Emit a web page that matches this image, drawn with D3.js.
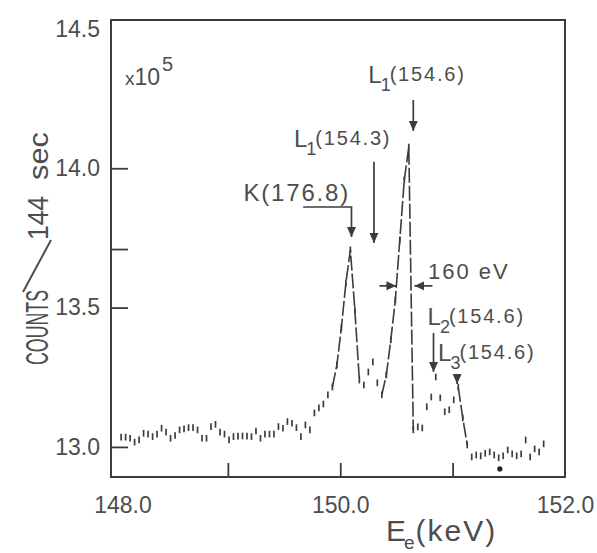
<!DOCTYPE html>
<html>
<head>
<meta charset="utf-8">
<script src="https://cdn.jsdelivr.net/npm/d3@7"></script>
<style>
    body { margin: 0; background: #fff; }
    svg text { font-family: "Liberation Sans", Arial, sans-serif; fill: #4d4d4d; }
</style>
</head>
<body>
<svg id="spectrum" width="597" height="553"></svg>
<script>
// electron energy (keV) of every channel
const energies = [
    148.05, 148.09, 148.13, 148.17, 148.21, 148.25, 148.29, 148.33, 148.37, 148.41,
    148.45, 148.49, 148.53, 148.57, 148.61, 148.65, 148.69, 148.73, 148.77, 148.81,
    148.85, 148.89, 148.93, 148.97, 149.01, 149.05, 149.09, 149.13, 149.17, 149.21,
    149.25, 149.29, 149.33, 149.37, 149.41, 149.45, 149.49, 149.53, 149.57, 149.61,
    149.65, 149.69, 149.73, 149.77, 149.81, 149.85, 149.89, 149.93, 149.97, 150.01,
    150.05, 150.09, 150.13, 150.17, 150.21, 150.25, 150.29, 150.33, 150.37, 150.41,
    150.45, 150.49, 150.53, 150.57, 150.61, 150.65, 150.69, 150.73, 150.77, 150.81,
    150.85, 150.89, 150.93, 150.97, 151.01, 151.05, 151.09, 151.13, 151.17, 151.21,
    151.25, 151.29, 151.33, 151.37, 151.41, 151.45, 151.49, 151.53, 151.57, 151.61,
    151.65, 151.69, 151.73, 151.77, 151.81
];
// counts per 144 sec, in units of 10^5
const counts = [
    13.035, 13.035, 13.031, 13.017, 13.025, 13.049, 13.046, 13.037, 13.046, 13.067,
    13.053, 13.031, 13.041, 13.061, 13.065, 13.069, 13.069, 13.061, 13.031, 13.031,
    13.073, 13.081, 13.053, 13.046, 13.025, 13.037, 13.039, 13.039, 13.039, 13.037,
    13.057, 13.031, 13.046, 13.046, 13.046, 13.073, 13.067, 13.091, 13.085, 13.069,
    13.037, 13.079, 13.061, 13.122, 13.140, 13.154, 13.187, 13.215, 13.294, 13.427,
    13.588, 13.707, 13.492, 13.240, 13.222, 13.269, 13.305, 13.230, 13.187, 13.258,
    13.384, 13.527, 13.743, 13.958, 14.076, 13.061, 13.072, 13.068, 13.144, 13.179,
    13.251, 13.176, 13.126, 13.133, 13.169, 13.215, 13.104, 13.007, 12.964, 12.971,
    12.968, 12.977, 12.982, 12.971, 12.961, 12.968, 12.989, 12.975, 12.968, 12.975,
    13.025, 12.964, 12.993, 12.982, 13.011
];
const countErr = 0.012;

// stretches of the spectrum drawn with a connecting line
const linkedRanges = [[149.93, 150.17], [150.37, 150.65], [151.05, 151.13]];
const strayDot = [151.42, 12.921];

const xTickMarks = [149, 150, 151];
const xTickLabels = [148, 150, 152];
const yTickMarks = [13.0, 13.5, 13.71, 14.0];
const yTickLabels = [13.0, 13.5, 14.0, 14.5];

// conversion lines: symbol, subscript, binding energy, energy they point at
const lineSymbols = ["K", "L", "L", "L", "L"];
const lineSubs = ["", "1", "1", "2", "3"];
const lineEnergies = ["(176.8)", "(154.3)", "(154.6)", "(154.6)", "(154.6)"];
const lineTargets = [150.10, 150.30, 150.65, 150.83, 151.04];
const fwhmText = "160 eV";
const fwhmEdges = [150.50, 150.66];

class SpectrumChart {

    constructor() {
        this.svg = d3.select("#spectrum");
        this.ink = "#3c3c3c";
        this.x = d3.scaleLinear().domain([147.96, 152.0]).range([111, 565]);
        this.y = d3.scaleLinear().domain([12.892, 14.532]).range([477, 20]);
        this.points = energies.map((e, i) => ({e: e, c: counts[i]}));

        let defs = this.svg.append("defs");
        defs.append("marker").attr("id", "head")
            .attr("viewBox", "0 0 10 10").attr("refX", 10).attr("refY", 5)
            .attr("markerWidth", 10).attr("markerHeight", 10)
            .attr("markerUnits", "userSpaceOnUse").attr("orient", "auto")
            .append("path").attr("d", "M0,0.5 L10,5 L0,9.5 Z").attr("fill", this.ink);
    }

    drawAxes() {
        let x = this.x, y = this.y;

        this.svg.append("rect")
            .attr("x", 111).attr("y", 20).attr("width", 454).attr("height", 457)
            .attr("fill", "none").attr("stroke", this.ink).attr("stroke-width", 2);

        let yMarks = this.svg.append("g").attr("transform", "translate(111,0)")
            .call(d3.axisLeft(y).tickValues(yTickMarks).tickSize(-17).tickFormat(""));
        let xMarks = this.svg.append("g").attr("transform", "translate(0,477)")
            .call(d3.axisBottom(x).tickValues(xTickMarks).tickSize(-14).tickFormat(""));
        for (let g of [yMarks, xMarks]) {
            g.select(".domain").remove();
            g.selectAll("line").attr("stroke", this.ink).attr("stroke-width", 1.8);
        }

        let yLabels = this.svg.append("g").attr("transform", "translate(111,0)")
            .call(d3.axisLeft(y).tickValues(yTickLabels).tickSize(0).tickPadding(11).tickFormat(d3.format(".1f")));
        let xLabels = this.svg.append("g").attr("transform", "translate(0,477)")
            .call(d3.axisBottom(x).tickValues(xTickLabels).tickSize(0).tickPadding(20).tickFormat(d3.format(".1f")));
        for (let g of [yLabels, xLabels]) {
            g.select(".domain").remove();
            g.selectAll("text").attr("font-size", 23).attr("fill", "#4d4d4d").attr("font-family", "Liberation Sans, Arial, sans-serif");
        }
        xLabels.selectAll("text").filter(d => d === 148).attr("dx", 7);

        // x10^5 multiplier
        let mult = this.svg.append("text").attr("x", 125).attr("y", 85).attr("font-size", 23);
        mult.append("tspan").text("x").attr("font-size", 19);
        mult.append("tspan").text("10");
        mult.append("tspan").text("5").attr("font-size", 20).attr("dy", -14).attr("dx", 2);

        // y title, rotated
        let yt = this.svg.append("g").attr("transform", "translate(48,0) rotate(-90)");
        yt.append("text").attr("x", -365).attr("y", 0).attr("font-size", 32)
            .attr("textLength", 75).attr("lengthAdjust", "spacingAndGlyphs").text("COUNTS");
        yt.append("text").attr("x", -240).attr("y", 0).attr("font-size", 29)
            .attr("textLength", 44).attr("lengthAdjust", "spacingAndGlyphs").text("144");
        yt.append("text").attr("x", -180).attr("y", 0).attr("font-size", 28)
            .attr("textLength", 48).attr("lengthAdjust", "spacingAndGlyphs").text("sec");
        this.svg.append("line")
            .attr("x1", 23).attr("y1", 292).attr("x2", 51).attr("y2", 240)
            .attr("stroke", "#4d4d4d").attr("stroke-width", 2);

        // x title E_e(keV), one text with a subscript
        let xt = this.svg.append("text").attr("x", 386).attr("y", 541).attr("font-size", 30);
        xt.append("tspan").text("E");
        xt.append("tspan").text("e").attr("font-size", 19).attr("dy", 8).attr("dx", -2);
        xt.append("tspan").text("(keV)").attr("dy", -8).attr("dx", 1).attr("letter-spacing", 2);
    }

    drawSpectrum() {
        let x = this.x, y = this.y;
        let line = d3.line().x(d => x(d.e)).y(d => y(d.c));

        for (let r of linkedRanges) {
            let seg = this.points.filter(d => d.e >= r[0] - 1e-6 && d.e <= r[1] + 1e-6);
            this.svg.append("path").datum(seg)
                .attr("d", line)
                .attr("fill", "none")
                .attr("stroke", this.ink)
                .attr("stroke-width", 1.6)
                .attr("stroke-dasharray", "15,3");
        }

        this.svg.append("g").selectAll("line")
            .data(this.points)
            .enter().append("line")
            .attr("x1", d => x(d.e)).attr("x2", d => x(d.e))
            .attr("y1", d => y(d.c - countErr)).attr("y2", d => y(d.c + countErr))
            .attr("stroke", this.ink).attr("stroke-width", 1.7);

        this.svg.append("circle")
            .attr("cx", x(strayDot[0])).attr("cy", y(strayDot[1])).attr("r", 2.6)
            .attr("fill", "#222");
    }

    arrow(points) {
        this.svg.append("path")
            .attr("d", d3.line()(points))
            .attr("fill", "none").attr("stroke", this.ink).attr("stroke-width", 1.7)
            .attr("marker-end", "url(#head)");
    }

    label(i, left, base) {
        let t = this.svg.append("text").attr("x", left).attr("y", base).attr("font-size", 24);
        if (lineSubs[i] === "") {
            t.attr("letter-spacing", 1.8).text(lineSymbols[i] + lineEnergies[i]);
            return;
        }
        t.append("tspan").text(lineSymbols[i]);
        t.append("tspan").text(lineSubs[i]).attr("font-size", 18).attr("dy", 8).attr("dx", -1);
        t.append("tspan").text(lineEnergies[i]).attr("font-size", 20)
            .attr("letter-spacing", 1.8).attr("dy", -10).attr("dx", -1);
    }

    drawAnnotations() {
        let x = this.x, y = this.y;
        let ax = lineTargets.map(e => x(e));

        // K(176.8): bent leader
        this.arrow([[x(149.67), y(13.861)], [ax[0], y(13.861)], [ax[0], y(13.753)]]);
        this.label(0, ax[0] - 108, 201);

        // L1(154.3)
        this.arrow([[ax[1], y(14.023)], [ax[1], y(13.732)]]);
        this.label(1, ax[1] - 80, 147);

        // L1(154.6)
        this.arrow([[ax[2], y(14.245)], [ax[2], y(14.134)]]);
        this.label(2, ax[2] - 45, 83);

        // L2(154.6)
        this.arrow([[ax[3], y(13.409)], [ax[3], y(13.269)]]);
        this.label(3, ax[3] - 6, 325);

        // L3(154.6): arrow head only
        this.arrow([[ax[4], y(13.262)], [ax[4], y(13.226)]]);
        this.label(4, ax[4] - 19, 361);

        // FWHM
        let fy = y(13.578);
        this.arrow([[x(fwhmEdges[0]) - 17, fy], [x(fwhmEdges[0]), fy]]);
        this.arrow([[x(fwhmEdges[1]) + 18, fy], [x(fwhmEdges[1]), fy]]);
        this.svg.append("text").attr("x", 428).attr("y", 279).attr("font-size", 22)
            .attr("letter-spacing", 2).text(fwhmText);
    }
}

let chart = new SpectrumChart();
chart.drawAxes();
chart.drawSpectrum();
chart.drawAnnotations();
</script>
</body>
</html>
